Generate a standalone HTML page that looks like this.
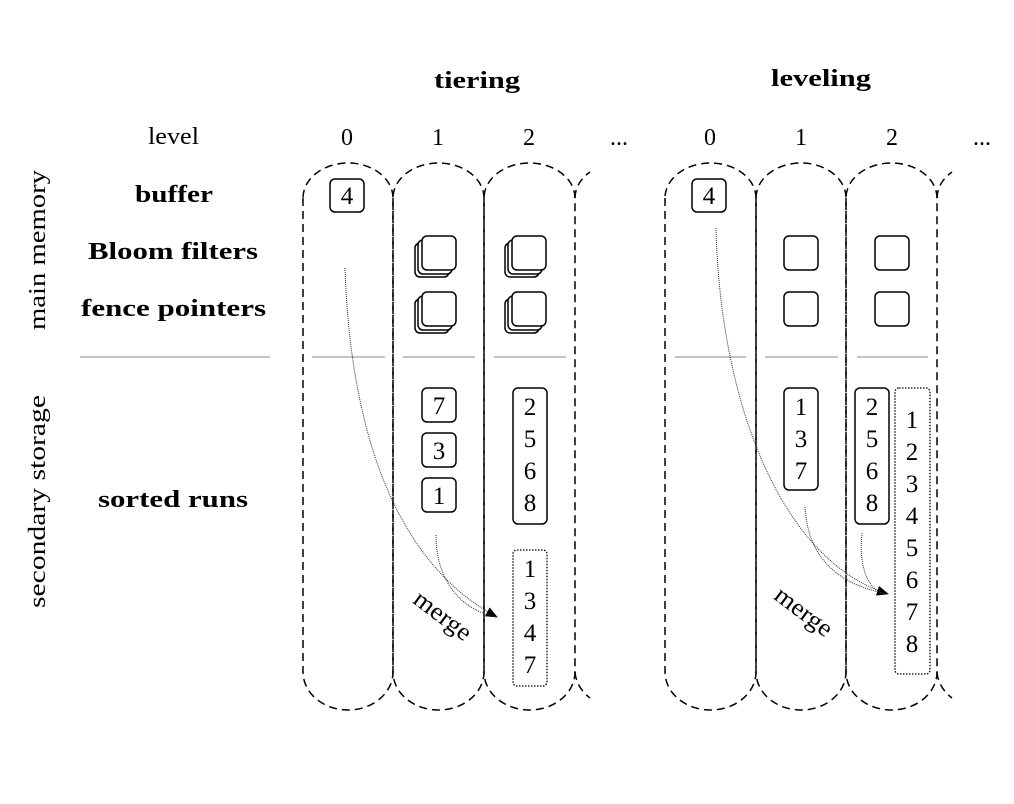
<!DOCTYPE html>
<html><head><meta charset="utf-8"><style>
html,body{margin:0;padding:0;background:#fff}
svg{display:block}
text{font-family:"Liberation Serif",serif;fill:#000}
.b{font-weight:bold}
</style></head><body>
<svg width="1014" height="804" viewBox="0 0 1014 804" xmlns="http://www.w3.org/2000/svg">
<defs>
<marker id="ah" markerWidth="12" markerHeight="10" refX="11" refY="5" orient="auto" markerUnits="userSpaceOnUse">
<path d="M0,0 L12,5 L0,10 z" fill="#000"/></marker>
</defs>
<g font-size="24">
<text x="434" y="88" class="b" textLength="86" lengthAdjust="spacingAndGlyphs">tiering</text>
<text x="771" y="86" class="b" textLength="100" lengthAdjust="spacingAndGlyphs">leveling</text>
<text x="148" y="144" textLength="51" lengthAdjust="spacingAndGlyphs">level</text>
<text x="347" y="145" text-anchor="middle">0</text>
<text x="438" y="145" text-anchor="middle">1</text>
<text x="529" y="145" text-anchor="middle">2</text>
<text x="619" y="145" text-anchor="middle">...</text>
<text x="710" y="145" text-anchor="middle">0</text>
<text x="801" y="145" text-anchor="middle">1</text>
<text x="892" y="145" text-anchor="middle">2</text>
<text x="982" y="145" text-anchor="middle">...</text>
<text x="135" y="202" class="b" textLength="78" lengthAdjust="spacingAndGlyphs">buffer</text>
<text x="88" y="259" class="b" textLength="170" lengthAdjust="spacingAndGlyphs">Bloom filters</text>
<text x="81" y="316" class="b" textLength="185" lengthAdjust="spacingAndGlyphs">fence pointers</text>
<text x="98" y="507" class="b" textLength="150" lengthAdjust="spacingAndGlyphs">sorted runs</text>
<text transform="translate(45,330) rotate(-90)" textLength="160" lengthAdjust="spacingAndGlyphs">main memory</text>
<text transform="translate(45,608) rotate(-90)" textLength="213" lengthAdjust="spacingAndGlyphs">secondary storage</text>
</g>
<g stroke="#888" stroke-width="1">
<line x1="80" y1="357" x2="270" y2="357"/>
<line x1="312" y1="357" x2="385" y2="357"/>
<line x1="403" y1="357" x2="475" y2="357"/>
<line x1="494" y1="357" x2="566" y2="357"/>
<line x1="675" y1="357" x2="746" y2="357"/>
<line x1="765" y1="357" x2="838" y2="357"/>
<line x1="857" y1="357" x2="928" y2="357"/>
</g>
<g fill="none" stroke="#000" stroke-width="1.5" stroke-dasharray="8,5">
<path d="M303,198 V672 A45,38 0 0 0 393,672 V198 A45,35 0 0 0 303,198"/>
<path d="M393,198 V672 A45.5,38 0 0 0 484,672 V198 A45.5,35 0 0 0 393,198"/>
<path d="M484,198 V672 A45.5,38 0 0 0 575,672 V198 A45.5,35 0 0 0 484,198"/>
<path d="M575,198 A45,35 0 0 1 590,172"/>
<path d="M575,672 A45,38 0 0 0 590,698"/>
<path d="M665,198 V672 A45.5,38 0 0 0 756,672 V198 A45.5,35 0 0 0 665,198"/>
<path d="M756,198 V672 A45,38 0 0 0 846,672 V198 A45,35 0 0 0 756,198"/>
<path d="M846,198 V672 A45.5,38 0 0 0 937,672 V198 A45.5,35 0 0 0 846,198"/>
<path d="M937,198 A45,35 0 0 1 952,172"/>
<path d="M937,672 A45,38 0 0 0 952,698"/>
</g>
<g fill="#fff" stroke="#000" stroke-width="1.5">
<rect x="330" y="179" width="34" height="33" rx="5"/>
<rect x="692" y="179" width="34" height="33" rx="5"/>
<rect x="415" y="243" width="34" height="34" rx="5"/>
<rect x="418" y="240" width="34" height="34" rx="5"/>
<rect x="422" y="236" width="34" height="34" rx="5"/>
<rect x="415" y="299" width="34" height="34" rx="5"/>
<rect x="418" y="296" width="34" height="34" rx="5"/>
<rect x="422" y="292" width="34" height="34" rx="5"/>
<rect x="505" y="243" width="34" height="34" rx="5"/>
<rect x="508" y="240" width="34" height="34" rx="5"/>
<rect x="512" y="236" width="34" height="34" rx="5"/>
<rect x="505" y="299" width="34" height="34" rx="5"/>
<rect x="508" y="296" width="34" height="34" rx="5"/>
<rect x="512" y="292" width="34" height="34" rx="5"/>
<rect x="784" y="236" width="34" height="34" rx="5"/>
<rect x="875" y="236" width="34" height="34" rx="5"/>
<rect x="784" y="292" width="34" height="34" rx="5"/>
<rect x="875" y="292" width="34" height="34" rx="5"/>
<rect x="422" y="388" width="34" height="34" rx="5"/>
<rect x="422" y="433" width="34" height="34" rx="5"/>
<rect x="422" y="478" width="34" height="34" rx="5"/>
<rect x="513" y="388" width="34" height="136" rx="5"/>
<rect x="784" y="388" width="34" height="102" rx="5"/>
<rect x="855" y="388" width="34" height="136" rx="5"/>
</g>
<g fill="none" stroke="#000" stroke-width="1.3" stroke-dasharray="1.5,1.5">
<rect x="513" y="550" width="34" height="136" rx="4"/>
<rect x="895" y="388" width="35" height="286" rx="4"/>
</g>
<g fill="none" stroke="#333" stroke-width="1" stroke-dasharray="1,1">
<path d="M345,268 C350,420 390,560 497,617" marker-end="url(#ah)"/>
<path d="M436,535 C436,580 460,610 497,617"/>
<path d="M716,228 C720,400 780,560 888,594" marker-end="url(#ah)"/>
<path d="M805,507 C808,560 840,585 888,594"/>
<path d="M862,533 C858,570 870,590 884,594"/>
</g>
<g font-size="25" text-anchor="middle">
<text x="347" y="204">4</text>
<text x="709" y="204">4</text>
<text x="439" y="414">7</text>
<text x="439" y="459">3</text>
<text x="439" y="504">1</text>
<text x="530" y="415">2</text><text x="530" y="447">5</text><text x="530" y="479">6</text><text x="530" y="511">8</text>
<text x="530" y="577">1</text><text x="530" y="609">3</text><text x="530" y="641">4</text><text x="530" y="673">7</text>
<text x="801" y="415">1</text><text x="801" y="447">3</text><text x="801" y="479">7</text>
<text x="872" y="415">2</text><text x="872" y="447">5</text><text x="872" y="479">6</text><text x="872" y="511">8</text>
<text x="912" y="428">1</text><text x="912" y="460">2</text><text x="912" y="492">3</text><text x="912" y="524">4</text>
<text x="912" y="556">5</text><text x="912" y="588">6</text><text x="912" y="620">7</text><text x="912" y="652">8</text>
<text transform="translate(438,622) rotate(37)" textLength="66" lengthAdjust="spacingAndGlyphs">merge</text>
<text transform="translate(799,618) rotate(37)" textLength="66" lengthAdjust="spacingAndGlyphs">merge</text>
</g>
</svg>
</body></html>
